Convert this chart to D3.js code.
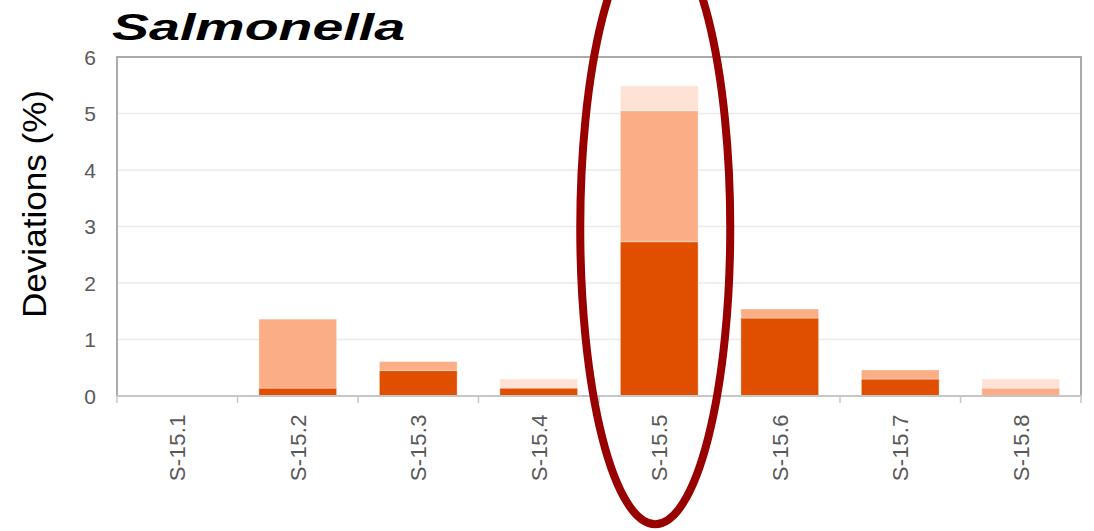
<!DOCTYPE html>
<html>
<head>
<meta charset="utf-8">
<script src="https://cdn.jsdelivr.net/npm/d3@7"></script>
<style>
  html, body { margin: 0; padding: 0; background: #fff; }
  svg { display: block; }
</style>
</head>
<body>
<svg id="chart" width="1094" height="531"></svg>
<script>
// Samples and the three stacked deviation components (%)
const samples = ["S-15.1", "S-15.2", "S-15.3", "S-15.4", "S-15.5", "S-15.6", "S-15.7", "S-15.8"];
const darkPart   = [0, 0.14, 0.45, 0.14, 2.73, 1.38, 0.30, 0];
const mediumPart = [0, 1.22, 0.16, 0,    2.32, 0.16, 0.16, 0.14];
const lightPart  = [0, 0,    0,    0.16, 0.44, 0,    0,    0.16];
const yTicks = [0, 1, 2, 3, 4, 5, 6];
const highlighted = "S-15.5";

const seriesKeys = ["dark", "medium", "light"];
const seriesColors = { dark: "#E04F00", medium: "#FBAE86", light: "#FEE2D5" };

const rows = samples.map((s, i) => ({
  sample: s, dark: darkPart[i], medium: mediumPart[i], light: lightPart[i]
}));

const svg = d3.select("#chart");
const plot = { left: 117, right: 1081, top: 57, bottom: 396 };

const x = d3.scaleBand().domain(samples)
  .range([plot.left, plot.right]).paddingInner(0.355).paddingOuter(0.1775);
const xEdge = d3.scaleBand().domain(samples).range([plot.left, plot.right]);
const y = d3.scaleLinear().domain([0, 6]).range([plot.bottom, plot.top]);

// gridlines
svg.append("g").selectAll("line").data(yTicks.filter(t => t > 0 && t < 6)).join("line")
  .attr("x1", plot.left).attr("x2", plot.right)
  .attr("y1", d => y(d)).attr("y2", d => y(d))
  .attr("stroke", "#ebebeb").attr("stroke-width", 1.5);

// stacked bars
const stacked = d3.stack().keys(seriesKeys)(rows);
svg.append("g").selectAll("g").data(stacked).join("g")
  .attr("fill", d => seriesColors[d.key])
  .selectAll("rect").data(d => d.filter(p => p[1] - p[0] > 0)).join("rect")
  .attr("x", d => x(d.data.sample))
  .attr("width", x.bandwidth())
  .attr("y", d => y(d[1]))
  .attr("height", d => y(d[0]) - y(d[1]))
  .attr("stroke", "rgba(255,255,255,0.35)").attr("stroke-width", 1);

// plot frame (top, left, right)
svg.append("path")
  .attr("d", `M${plot.left},${plot.bottom}V${plot.top}H${plot.right}V${plot.bottom}`)
  .attr("fill", "none").attr("stroke", "#ababab").attr("stroke-width", 2);

// x axis with tick marks at category boundaries
svg.append("line")
  .attr("x1", plot.left).attr("x2", plot.right + 1)
  .attr("y1", plot.bottom).attr("y2", plot.bottom)
  .attr("stroke", "#c6c6c6").attr("stroke-width", 2);
const edges = samples.map(s => xEdge(s)).concat([plot.right]);
svg.append("g").selectAll("line").data(edges).join("line")
  .attr("x1", d => d).attr("x2", d => d)
  .attr("y1", plot.bottom).attr("y2", plot.bottom + 7)
  .attr("stroke", "#c6c6c6").attr("stroke-width", 1.5);

// x tick labels, rotated
svg.append("g").selectAll("text").data(samples).join("text")
  .attr("transform", d => `translate(${x(d) + x.bandwidth() / 2 + 8},414) rotate(-90)`)
  .attr("text-anchor", "end")
  .attr("font-family", "Liberation Sans, Arial, sans-serif")
  .attr("font-size", 22).attr("fill", "#595959")
  .attr("letter-spacing", 0.4)
  .text(d => d);

// y tick labels
svg.append("g").selectAll("text").data(yTicks).join("text")
  .attr("x", 96).attr("y", d => y(d) + 7.5)
  .attr("text-anchor", "end")
  .attr("font-family", "Liberation Sans, Arial, sans-serif")
  .attr("font-size", 21).attr("fill", "#595959")
  .text(d => d);

// y axis title
svg.append("text")
  .attr("transform", "translate(46,318) rotate(-90)")
  .attr("font-family", "Liberation Sans, Arial, sans-serif")
  .attr("font-size", 34).attr("fill", "#000")
  .attr("textLength", 228).attr("lengthAdjust", "spacingAndGlyphs")
  .text("Deviations (%)");

// chart title
svg.append("text")
  .attr("x", 112).attr("y", 40)
  .attr("font-family", "Liberation Sans, Arial, sans-serif")
  .attr("font-size", 37).attr("font-weight", "bold").attr("font-style", "italic")
  .attr("fill", "#000")
  .attr("textLength", 293).attr("lengthAdjust", "spacingAndGlyphs")
  .text("Salmonella");

// highlight ring around the selected sample
const hx = x(highlighted) + x.bandwidth() / 2 - 4;
svg.append("ellipse")
  .attr("cx", hx).attr("cy", y(2.97))
  .attr("rx", 75).attr("ry", y(0) - y(5.24))
  .attr("fill", "none").attr("stroke", "#990000").attr("stroke-width", 8);
</script>
</body>
</html>
